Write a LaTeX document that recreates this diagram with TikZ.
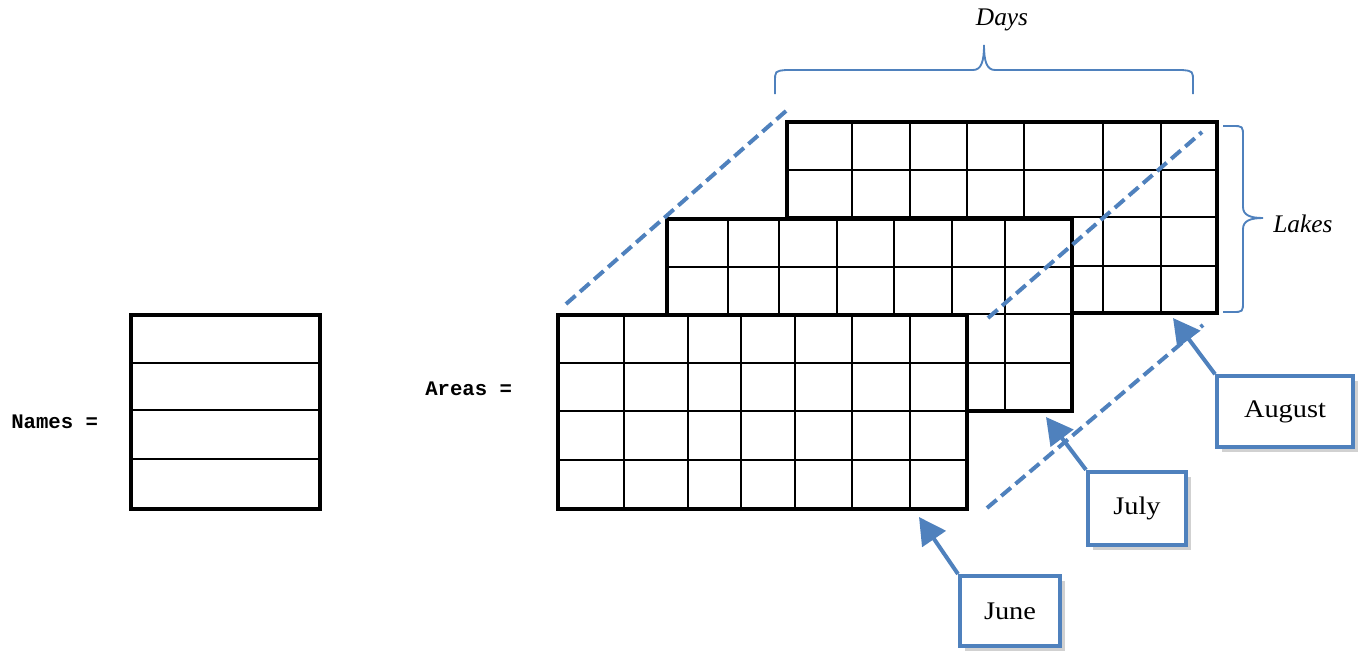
\documentclass[tikz,border=0pt]{standalone}
\usepackage{fontspec}
\setmainfont{Liberation Serif}
\newfontfamily\codefont{Liberation Mono}
\newfontfamily\calfont[FakeStretch=1.12]{Liberation Serif}
\usetikzlibrary{arrows.meta,shadows}
\definecolor{wordblue}{HTML}{4F81BD}
\begin{document}
\begin{tikzpicture}[x=0.75pt,y=-0.75pt,
  gridouter/.style={line width=3pt},
  gridinner/.style={line width=1.5pt},
  gridthin/.style={line width=1pt},
  dashline/.style={draw=wordblue,line width=3pt,dash pattern=on 9.5pt off 4.5pt},
  bracepath/.style={draw=wordblue,line width=1.4pt},
  codelabel/.style={font=\codefont\bfseries\fontsize{15.5}{18}\selectfont, inner sep=0pt, anchor=west},
  axislabel/.style={font=\itshape\fontsize{19}{22}\selectfont, inner sep=0pt},
  callbox/.style={draw=wordblue, line width=3pt, fill=white, inner sep=0pt,
    font=\calfont\fontsize{19}{22}\selectfont,
    drop shadow={shadow xshift=3.5pt, shadow yshift=-3.5pt, opacity=0.3, fill=black!60}},
  callarrow/.style={draw=wordblue, line width=3pt, -{Triangle[length=20pt,width=21pt]}}
]
\useasboundingbox (0,0) rectangle (1366,654);

% August grid (back)
\fill[white] (787,122) rectangle (1217,313);
\foreach \x in {852,910,967,1024,1103,1161} \draw[gridinner] (\x,122) -- (\x,313);
\foreach \y in {170,217,266} \draw[gridinner] (787,\y) -- (1217,\y);
\draw[gridouter] (787,122) rectangle (1217,313);

% July grid (middle)
\fill[white] (667,219) rectangle (1072,411);
\foreach \x in {728,779,837,894,952,1005} \draw[gridinner] (\x,219) -- (\x,411);
\foreach \y in {267,314,363} \draw[gridinner] (667,\y) -- (1072,\y);
\draw[gridouter] (667,219) rectangle (1072,411);

% June grid (front)
\fill[white] (558,315) rectangle (967,509);
\foreach \x in {624,688,741,795,852,910} \draw[gridinner] (\x,315) -- (\x,509);
\foreach \y in {363,411,460} \draw[gridinner] (558,\y) -- (967,\y);
\draw[gridouter] (558,315) rectangle (967,509);

% Names column
\foreach \y in {363,410,459} \draw[gridthin] (131,\y) -- (320,\y);
\draw[gridouter] (131,315) rectangle (320,509);

% labels
\node[codelabel] (names) at (11,422) {Names =};
\node[codelabel] (areas) at (425,389) {Areas =};

% callouts
\node[callbox, minimum width=102pt, minimum height=53pt] (aug) at (1285,411.5) {August};
\node[callbox, minimum width=73.5pt, minimum height=55pt] (jul) at (1137,508.5) {July};
\node[callbox, minimum width=75pt, minimum height=52.5pt] (jun) at (1010,611) {June};
\coordinate (augtip) at (1173,318);
\coordinate (jultip) at (1046,417);
\coordinate (juntip) at (919,517);
\draw[callarrow] (aug.north west) -- (augtip);
\draw[callarrow] (jul.north west) -- (jultip);
\draw[callarrow] (jun.north west) -- (juntip);

% dashed depth lines
\coordinate (d1a) at (566,304); \coordinate (d1b) at (786,111);
\coordinate (d2a) at (988,318); \coordinate (d2b) at (1202,132);
\coordinate (d3a) at (987,508); \coordinate (d3b) at (1203,325);
\draw[dashline] (d1a) -- (d1b);
\draw[dashline] (d2a) -- (d2b);
\draw[dashline] (d3a) -- (d3b);

% Days brace
\draw[bracepath] (775,94) -- (775,82) .. controls (775,71) .. (786,70) -- (973,70)
  .. controls (981,70) and (984,62) .. (984,45)
  .. controls (984,62) and (987,70) .. (995,70) -- (1182,70)
  .. controls (1193,71) .. (1193,82) -- (1193,94);
\node[axislabel] (days) at (1002,20) {Days};

% Lakes brace
\draw[bracepath] (1223,126) -- (1232,126) .. controls (1243,126) .. (1243,137) -- (1243,207)
  .. controls (1243,215) and (1250,218) .. (1263,218)
  .. controls (1250,218) and (1243,221) .. (1243,229) -- (1243,301)
  .. controls (1243,312) .. (1232,312) -- (1223,312);
\node[axislabel, anchor=west] (lakes) at (1273,224) {Lakes};
\end{tikzpicture}
\end{document}
